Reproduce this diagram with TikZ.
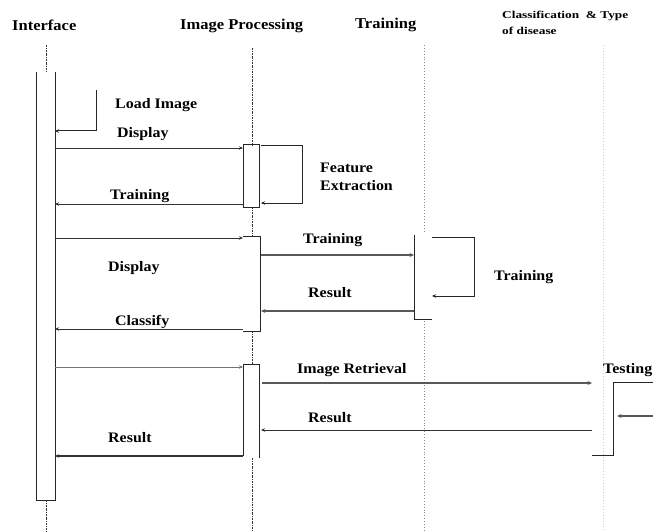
\documentclass[tikz,border=0pt]{standalone}
\usepackage{fontspec}
\setmainfont{Liberation Serif}
\newfontfamily\lblfont[FakeStretch=1.1]{Liberation Serif}
\newfontfamily\smallfont[FakeStretch=1.27]{Liberation Serif}
\usetikzlibrary{arrows.meta}
\tikzset{
  lbl/.style={anchor=west,inner sep=0pt,font=\lblfont\bfseries\fontsize{14.5}{15}\selectfont},
  hdr/.style={anchor=west,inner sep=0pt,font=\lblfont\bfseries\fontsize{15}{16}\selectfont},
  smallhdr/.style={anchor=west,inner sep=0pt,font=\smallfont\bfseries\fontsize{10.5}{11}\selectfont},
  msg/.style={draw=black!80,line width=0.8pt,-{Stealth[length=4pt,width=3.5pt]}},
  msgthick/.style={draw=black!65,line width=1.4pt,-{Stealth[length=4.5pt,width=4pt]}},
  plain/.style={draw=black!85,line width=1pt},
  lifeA/.style={draw=black!80,line width=0.8pt,dash pattern=on 2pt off 1pt on 0.6pt off 1pt},
  lifeB/.style={draw=black!45,line width=0.9pt,dotted},
  lifeC/.style={draw=black!20,line width=0.9pt,dotted},
}
\begin{document}
\begin{tikzpicture}[x=1pt,y=-1pt]
\useasboundingbox (0,0) rectangle (653,532);
% headers
\node[hdr] (hInt) at (12,25) {Interface};
\node[hdr] (hImg) at (180,26) {Image Processing};
\node[hdr] (hTr) at (355,25) {Training};
\node[smallhdr] (hCl1) at (502,16) {Classification\ \ \& Type};
\node[smallhdr] (hCl2) at (502,31) {of disease};

% lifelines
\coordinate (iL0) at (46,45); \coordinate (iL1) at (46,72);
\coordinate (iL2) at (46,500); \coordinate (iL3) at (46,532);
\draw[lifeA] (iL0) -- (iL1);
\draw[lifeA] (iL2) -- (iL3);
\coordinate (pL0) at (252,48); \coordinate (pL1) at (252,145);
\coordinate (pL2) at (252,207); \coordinate (pL3) at (252,236);
\coordinate (pL4) at (252,331); \coordinate (pL5) at (252,364);
\coordinate (pL6) at (252,458); \coordinate (pL7) at (252,532);
\draw[lifeA] (pL0) -- (pL1);
\draw[lifeA] (pL2) -- (pL3);
\draw[lifeA] (pL4) -- (pL5);
\draw[lifeA] (pL6) -- (pL7);
\coordinate (tL0) at (424,45); \coordinate (tL1) at (424,232);
\coordinate (tL2) at (424,321); \coordinate (tL3) at (424,532);
\draw[lifeB] (tL0) -- (tL1);
\draw[lifeB] (tL2) -- (tL3);
\coordinate (cL0) at (603,45); \coordinate (cL1) at (603,532);
\draw[lifeC] (cL0) -- (cL1);

% Interface activation
\draw[plain] (36,72) -- (36,500) -- (55,500) -- (55,72);

% Load image self call
\coordinate (li0) at (96,90); \coordinate (li1) at (96,131); \coordinate (li2) at (55,131);
\draw[plain,-{Stealth[length=4pt,width=3.5pt]}] (li0) -- (li1) -- (li2);
\node[lbl] (tLoad) at (115,105) {Load Image};

% Display -> image processing
\coordinate (d1a) at (55,148); \coordinate (d1b) at (243,148);
\draw[msg] (d1a) -- (d1b);
\node[lbl] (tDisp1) at (117,134) {Display};

% IP activation 1
\draw[plain] (243,145) rectangle (259,207);
\coordinate (fe0) at (261,146); \coordinate (fe1) at (302,146);
\coordinate (fe2) at (302,203); \coordinate (fe3) at (261,203);
\draw[plain,-{Stealth[length=4pt,width=3.5pt]}] (fe0) -- (fe1) -- (fe2) -- (fe3);
\node[lbl] (tFeat) at (320,168) {Feature};
\node[lbl] (tExtr) at (320,186) {Extraction};

% Training return
\coordinate (tr1a) at (243,204); \coordinate (tr1b) at (55,204);
\draw[msg] (tr1a) -- (tr1b);
\node[lbl] (tTrain1) at (110,196) {Training};

% second request
\coordinate (d2a) at (55,238); \coordinate (d2b) at (243,238);
\draw[msg] (d2a) -- (d2b);
\node[lbl] (tDisp2) at (108,268) {Display};
\draw[plain] (243,236) -- (260,236) -- (260,331) -- (243,331);

% Training message
\coordinate (tm0) at (261,255); \coordinate (tm1) at (414,255);
\draw[msgthick,line width=1.1pt] (tm0) -- (tm1);
\node[lbl] (tTrain2) at (303,240) {Training};

% Training activation
\draw[plain] (414,235) -- (414,319) -- (432,319);
\coordinate (ts0) at (432,237); \coordinate (ts1) at (474,237);
\coordinate (ts2) at (474,296); \coordinate (ts3) at (432,296);
\draw[plain,-{Stealth[length=4pt,width=3.5pt]}] (ts0) -- (ts1) -- (ts2) -- (ts3);
\node[lbl] (tTrain3) at (494,277) {Training};

% Result
\coordinate (r1a) at (414,311); \coordinate (r1b) at (261,311);
\draw[msgthick,line width=1.1pt] (r1a) -- (r1b);
\node[lbl] (tRes1) at (308,293) {Result};

% Classify
\coordinate (clA) at (243,329); \coordinate (clB) at (55,329);
\draw[msg] (clA) -- (clB);
\node[lbl] (tClass) at (115,322) {Classify};

% third request
\coordinate (d3a) at (55,367); \coordinate (d3b) at (243,367);
\draw[msg,draw=black!55] (d3a) -- (d3b);
\draw[plain] (243,456) -- (243,364) -- (259,364) -- (259,458);

% Image retrieval
\coordinate (ir0) at (262,383); \coordinate (ir1) at (592,383);
\draw[msgthick] (ir0) -- (ir1);
\node[lbl] (tIR) at (297,370) {Image Retrieval};

% Testing bracket
\draw[plain] (592,455) -- (613,455) -- (613,382) -- (653,382);
\node[lbl] (tTest) at (603,370) {Testing};
\coordinate (te0) at (653,416); \coordinate (te1) at (617,416);
\draw[msgthick] (te0) -- (te1);

% Result from classification
\coordinate (r2a) at (592,430); \coordinate (r2b) at (261,430);
\draw[msg,line width=1pt] (r2a) -- (r2b);
\node[lbl] (tRes2) at (308,418) {Result};

% Result to interface
\coordinate (r3a) at (243,456); \coordinate (r3b) at (55,456);
\draw[msg,line width=1.2pt] (r3a) -- (r3b);
\node[lbl] (tRes3) at (108,438) {Result};
\end{tikzpicture}
\end{document}
